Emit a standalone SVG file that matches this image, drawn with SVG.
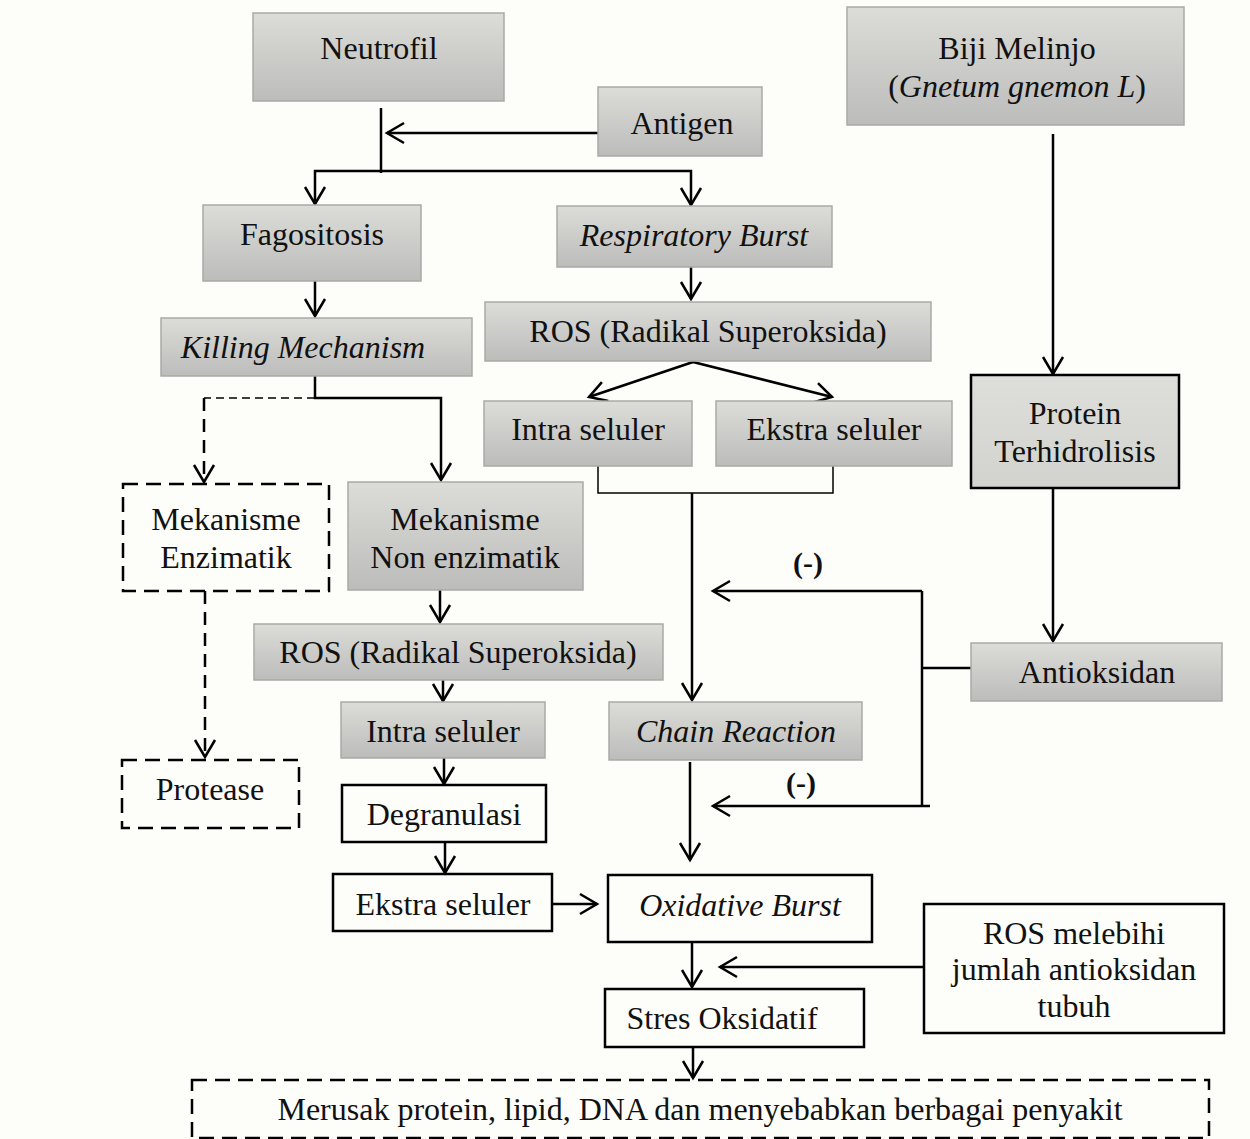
<svg xmlns="http://www.w3.org/2000/svg" width="1250" height="1139" viewBox="0 0 1250 1139">
<defs>
<linearGradient id="g" x1="0" y1="0" x2="0" y2="1">
<stop offset="0" stop-color="#dcdcd8"/>
<stop offset="1" stop-color="#bcbcbb"/>
</linearGradient>
<linearGradient id="gp" x1="0" y1="0" x2="0" y2="1">
<stop offset="0" stop-color="#dededb"/>
<stop offset="1" stop-color="#d2d2cf"/>
</linearGradient>
<marker id="a" markerUnits="userSpaceOnUse" markerWidth="24" markerHeight="24" viewBox="0 0 24 24" refX="21" refY="12" orient="auto">
<path d="M4,2 L21,12 L4,22" fill="none" stroke="#000" stroke-width="2.5"/>
</marker>
<style>
text{font-family:"Liberation Serif","Times New Roman",serif;font-size:32px;fill:#111;text-anchor:middle}
.i{font-style:italic}
.b{font-weight:bold;font-size:30px}
.gray{fill:url(#g);stroke:#a9a9a7;stroke-width:1.5}
.solid{fill:none;stroke:#000;stroke-width:2.5}
.dash{fill:none;stroke:#000;stroke-width:2.5;stroke-dasharray:15 8}
.c{fill:none;stroke:#000;stroke-width:2.5}
.thin{fill:none;stroke:#000;stroke-width:1.5}
.ar{marker-end:url(#a)}
</style>
</defs>
<rect width="1250" height="1139" fill="#fdfdfa"/>
<g id="connectors">
<path class="c" d="M381,108 V173"/>
<path class="c ar" d="M598,133 H387"/>
<path class="c ar" d="M381,171 H315 V204"/>
<path class="c ar" d="M381,171 H691 V205"/>
<path class="c ar" d="M315,281 V316"/>
<path class="c ar" d="M691,267 V299"/>
<path class="c ar" d="M693,362 L589,397"/>
<path class="c ar" d="M693,362 L832,397"/>
<path class="c ar" d="M315,376 V398 H441 V480"/>
<path class="thin" d="M315,398 H204" stroke-dasharray="8 5"/>
<path class="c ar" d="M204,398 V482" stroke-dasharray="13 8"/>
<path class="thin" d="M598,466 V493 H833 V466"/>
<path class="c ar" d="M692,493 V700"/>
<path class="c ar" d="M1053,134 V374"/>
<path class="c ar" d="M1053,488 V641"/>
<path class="c" d="M971,668 H922"/>
<path class="c" d="M922,591 V806"/>
<path class="c ar" d="M922,591 H713"/>
<path class="c ar" d="M930,806 H713"/>
<path class="c ar" d="M205,591 V757" stroke-dasharray="13 8"/>
<path class="c ar" d="M440,590 V622"/>
<path class="c ar" d="M443,680 V701"/>
<path class="c ar" d="M444,758 V784"/>
<path class="c ar" d="M445,842 V873"/>
<path class="c ar" d="M552,904 H597"/>
<path class="c ar" d="M690,762 V860"/>
<path class="c ar" d="M692,942 V987"/>
<path class="c ar" d="M924,967 H720"/>
<path class="c ar" d="M693,1047 V1078"/>
</g>
<g id="neutrofil"><rect class="gray" x="253" y="13" width="251" height="88"/><text x="379" y="59">Neutrofil</text></g>
<g id="antigen"><rect class="gray" x="598" y="87" width="164" height="69"/><text x="682" y="134">Antigen</text></g>
<g id="biji"><rect class="gray" x="847" y="7" width="337" height="118"/><text x="1017" y="59">Biji Melinjo</text><text x="1017" y="97">(<tspan class="i">Gnetum gnemon L</tspan>)</text></g>
<g id="fagositosis"><rect class="gray" x="203" y="205" width="218" height="76"/><text x="312" y="245">Fagositosis</text></g>
<g id="respiratory"><rect class="gray" x="557" y="206" width="275" height="61"/><text class="i" x="694" y="246">Respiratory Burst</text></g>
<g id="killing"><rect class="gray" x="161" y="318" width="311" height="58"/><text class="i" x="303" y="358">Killing Mechanism</text></g>
<g id="ros1"><rect class="gray" x="485" y="302" width="446" height="59"/><text x="708" y="342">ROS (Radikal Superoksida)</text></g>
<g id="intra1"><rect class="gray" x="484" y="401" width="208" height="65"/><text x="588" y="440">Intra seluler</text></g>
<g id="ekstra1"><rect class="gray" x="716" y="401" width="236" height="65"/><text x="834" y="440">Ekstra seluler</text></g>
<g id="protein"><rect x="971" y="375" width="208" height="113" fill="url(#gp)" stroke="#000" stroke-width="2.5"/><text x="1075" y="424">Protein</text><text x="1075" y="462">Terhidrolisis</text></g>
<g id="enzimatik"><rect class="dash" x="123" y="484" width="206" height="107"/><text x="226" y="530">Mekanisme</text><text x="226" y="568">Enzimatik</text></g>
<g id="nonenzimatik"><rect class="gray" x="348" y="482" width="235" height="108"/><text x="465" y="530">Mekanisme</text><text x="465" y="568">Non enzimatik</text></g>
<g id="minus1"><text class="b" x="808" y="573">(-)</text></g>
<g id="ros2"><rect class="gray" x="254" y="624" width="409" height="56"/><text x="458" y="663">ROS (Radikal Superoksida)</text></g>
<g id="antioksidan"><rect class="gray" x="971" y="643" width="251" height="58"/><text x="1097" y="683">Antioksidan</text></g>
<g id="chain"><rect class="gray" x="609" y="702" width="253" height="58"/><text class="i" x="736" y="742">Chain Reaction</text></g>
<g id="intra2"><rect class="gray" x="341" y="702" width="204" height="56"/><text x="443" y="742">Intra seluler</text></g>
<g id="protease"><rect class="dash" x="122" y="760" width="177" height="68"/><text x="210" y="800">Protease</text></g>
<g id="minus2"><text class="b" x="801" y="793">(-)</text></g>
<g id="degranulasi"><rect class="solid" x="342" y="785" width="204" height="57"/><text x="444" y="825">Degranulasi</text></g>
<g id="ekstra2"><rect class="solid" x="333" y="874" width="219" height="57"/><text x="443" y="915">Ekstra seluler</text></g>
<g id="oxidative"><rect class="solid" x="608" y="875" width="264" height="67"/><text class="i" x="740" y="916">Oxidative Burst</text></g>
<g id="rosmelebihi"><rect class="solid" x="924" y="904" width="300" height="129"/><text x="1074" y="944">ROS melebihi</text><text x="1074" y="980">jumlah antioksidan</text><text x="1074" y="1017">tubuh</text></g>
<g id="stres"><rect class="solid" x="605" y="989" width="259" height="58"/><text x="722" y="1029">Stres Oksidatif</text></g>
<g id="merusak"><rect class="dash" x="192" y="1080" width="1017" height="58"/><text x="700" y="1120">Merusak protein, lipid, DNA dan menyebabkan berbagai penyakit</text></g>
</svg>
